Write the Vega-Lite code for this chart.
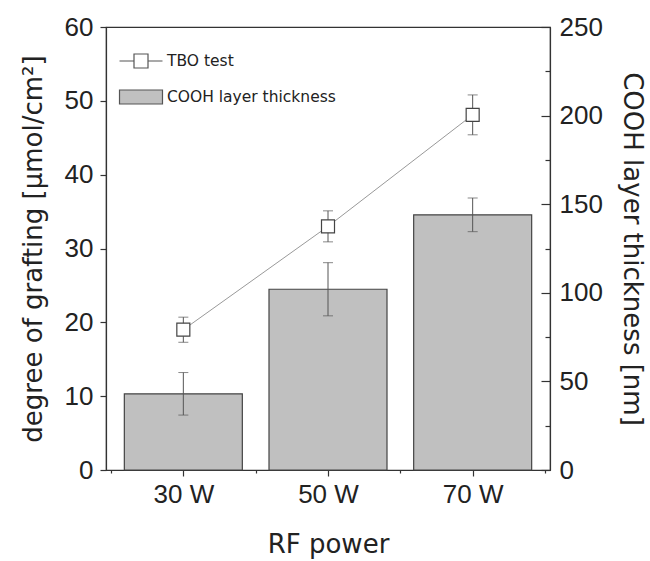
{
  "$schema": "https://vega.github.io/schema/vega-lite/v6.json",
  "width": 444,
  "height": 443,
  "autosize": "none",
  "padding": {"left": 106, "top": 27, "right": 100, "bottom": 91},
  "background": "white",
  "config": {
    "view": {"stroke": "#333", "strokeWidth": 1.2},
    "axis": {
      "grid": false,
      "domainColor": "#333",
      "domainWidth": 1.2,
      "tickColor": "#333",
      "tickWidth": 1.2,
      "labelFont": "Liberation Sans",
      "labelFontSize": 26,
      "labelColor": "#222",
      "titleFont": "DejaVu Sans",
      "titleFontSize": 26,
      "titleFontWeight": "normal",
      "titleColor": "#222",
      "labelOverlap": false,
      "labelFlush": false,
      "labelBound": false
    }
  },
  "data": {
    "values": [
      {"power": 30, "tbo": 19.0, "tbo_err": 1.7, "cooh": 43, "cooh_err": 12},
      {"power": 50, "tbo": 33.0, "tbo_err": 2.1, "cooh": 102, "cooh_err": 15},
      {"power": 70, "tbo": 48.1, "tbo_err": 2.7, "cooh": 144, "cooh_err": 9.5}
    ]
  },
  "layer": [
    {
      "layer": [
        {
          "mark": {"type": "bar", "width": 118, "fill": "#c0c0c0", "stroke": "#444", "strokeWidth": 1.2},
          "encoding": {
            "x": {
              "field": "power",
              "type": "quantitative",
              "title": "RF power",
              "scale": {"domain": [20, 80], "nice": false, "zero": false},
              "axis": {
                "values": [20, 30, 40, 50, 60, 70, 80],
                "labelExpr": "datum.value % 20 === 10 ? datum.value + ' W' : ''",
                "tickSize": {"condition": {"test": "datum.value % 20 === 10", "value": 6}, "value": 3},
                "labelPadding": 5,
                "titlePadding": 24
              }
            },
            "y": {
              "field": "cooh",
              "type": "quantitative",
              "title": "COOH layer thickness [nm]",
              "scale": {"domain": [0, 250], "nice": false},
              "axis": {
                "orient": "right",
                "values": [0, 25, 50, 75, 100, 125, 150, 175, 200, 225, 250],
                "labelExpr": "datum.value % 50 === 0 ? datum.label : ''",
                "tickSize": {"condition": {"test": "datum.value % 50 === 0", "value": -9}, "value": -5},
                "labelPadding": 18,
                "titlePadding": 16
              }
            },
            "fill": {
              "datum": "COOH layer thickness",
              "type": "nominal",
              "scale": {"domain": ["TBO test", "COOH layer thickness"], "range": ["white", "#c0c0c0"]},
              "legend": {
                "orient": "none",
                "legendX": 27,
                "legendY": 26,
                "title": null,
                "padding": 0,
                "symbolSize": 196,
                "labelFont": "DejaVu Sans",
                "labelFontSize": 15.5,
                "labelColor": "#222",
                "labelLimit": 400,
                "labelOffset": 18,
                "rowPadding": 16,
                "symbolStrokeColor": "#555",
                "symbolStrokeWidth": 1.2,
                "encode": {
                  "symbols": {
                    "update": {
                      "shape": {"signal": "datum.value === 'TBO test' ? 'M-3.07,0H-1M1,0H3.07M-1,-1H1V1H-1Z' : 'M-3.07,-1H3.07V1H-3.07Z'"},
                      "stroke": {"value": "#555"},
                      "strokeWidth": {"value": 1.2},
                      "opacity": {"value": 1}
                    }
                  }
                }
              }
            }
          }
        },
        {
          "mark": {"type": "errorbar", "color": "#555", "ticks": {"size": 10, "thickness": 1}, "rule": {"strokeWidth": 1}},
          "encoding": {
            "x": {"field": "power", "type": "quantitative"},
            "y": {"field": "cooh", "type": "quantitative", "title": "COOH layer thickness [nm]"},
            "yError": {"field": "cooh_err"}
          }
        }
      ]
    },
    {
      "layer": [
        {
          "mark": {"type": "line", "stroke": "#999", "strokeWidth": 1},
          "encoding": {
            "x": {"field": "power", "type": "quantitative"},
            "y": {
              "field": "tbo",
              "type": "quantitative",
              "title": "degree of grafting [µmol/cm²]",
              "scale": {"domain": [0, 60], "nice": false},
              "axis": {
                "orient": "left",
                "values": [0, 5, 10, 15, 20, 25, 30, 35, 40, 45, 50, 55, 60],
                "labelExpr": "datum.value % 10 === 0 ? datum.label : ''",
                "tickSize": {"condition": {"test": "datum.value % 10 === 0", "value": 6}, "value": 3},
                "labelPadding": 7,
                "titlePadding": 18
              }
            }
          }
        },
        {
          "mark": {"type": "errorbar", "color": "#555", "ticks": {"size": 10, "thickness": 1}, "rule": {"strokeWidth": 1}},
          "encoding": {
            "x": {"field": "power", "type": "quantitative"},
            "y": {"field": "tbo", "type": "quantitative", "title": "degree of grafting [µmol/cm²]"},
            "yError": {"field": "tbo_err"}
          }
        },
        {
          "mark": {"type": "point", "shape": "square", "size": 169, "filled": true, "fill": "white", "stroke": "#444", "strokeWidth": 1.2, "opacity": 1},
          "encoding": {
            "x": {"field": "power", "type": "quantitative"},
            "y": {"field": "tbo", "type": "quantitative", "title": "degree of grafting [µmol/cm²]"}
          }
        }
      ]
    }
  ],
  "resolve": {"scale": {"y": "independent"}}
}
